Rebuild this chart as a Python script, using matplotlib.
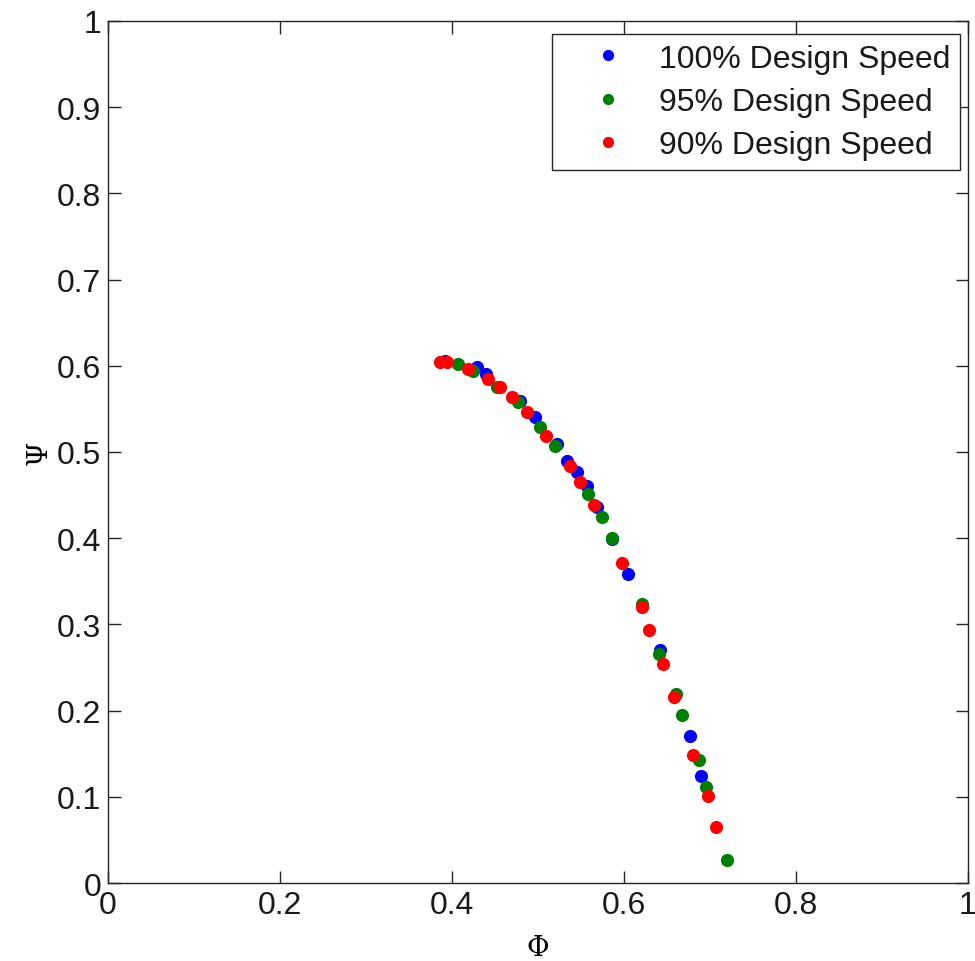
import matplotlib
matplotlib.use("Agg")
import matplotlib.pyplot as plt

phi_100 = [0.392, 0.429, 0.440, 0.479, 0.497, 0.522, 0.534, 0.545, 0.557, 0.569, 0.586, 0.605, 0.642, 0.677, 0.690]
psi_100 = [0.606, 0.599, 0.590, 0.559, 0.541, 0.509, 0.490, 0.477, 0.461, 0.436, 0.399, 0.358, 0.270, 0.170, 0.124]

phi_95 = [0.407, 0.424, 0.452, 0.477, 0.502, 0.520, 0.558, 0.574, 0.586, 0.621, 0.641, 0.660, 0.667, 0.687, 0.695, 0.720]
psi_95 = [0.602, 0.594, 0.575, 0.558, 0.529, 0.507, 0.451, 0.425, 0.400, 0.324, 0.266, 0.219, 0.195, 0.143, 0.111, 0.027]

phi_90 = [0.386, 0.394, 0.419, 0.442, 0.456, 0.470, 0.487, 0.509, 0.537, 0.549, 0.565, 0.598, 0.621, 0.629, 0.645, 0.658, 0.680, 0.698, 0.707]
psi_90 = [0.604, 0.604, 0.596, 0.585, 0.575, 0.564, 0.546, 0.519, 0.484, 0.465, 0.439, 0.371, 0.320, 0.294, 0.254, 0.216, 0.148, 0.101, 0.065]

labels = ["100% Design Speed", "95% Design Speed", "90% Design Speed"]
colors = ["#0000ff", "#008000", "#ff0000"]
xticks = [0, 0.2, 0.4, 0.6, 0.8, 1]
yticks = [0, 0.1, 0.2, 0.3, 0.4, 0.5, 0.6, 0.7, 0.8, 0.9, 1]

plt.rcParams['font.family'] = ['Liberation Sans', 'DejaVu Sans']
FS = 23

fig = plt.figure(figsize=(9.75, 9.62), dpi=100)
ax = fig.add_axes([108/975, 1-884/962, 860/975, 862/962])

for xs, ys, c, lab in zip([phi_100, phi_95, phi_90], [psi_100, psi_95, psi_90], colors, labels):
    ax.plot(xs, ys, linestyle='none', marker='o', markersize=9.5, color=c,
            markeredgewidth=0, label=lab)

ax.set_xlim(0, 1)
ax.set_ylim(0, 1)
ax.set_xticks(xticks)
ax.set_yticks(yticks)
ax.set_xticklabels([("%g" % v) for v in xticks])
ax.set_yticklabels([("%g" % v) for v in yticks])
ax.tick_params(direction='in', length=9, width=1, top=True, right=True,
               labelsize=FS, colors='#262626', labelcolor='#1a1a1a', pad=5)
for s in ax.spines.values():
    s.set_linewidth(1.0)
    s.set_color('#262626')

ax.set_xlabel('Φ', fontsize=20, family=['DejaVu Serif'], labelpad=10)
ax.set_ylabel('Ψ', fontsize=20, family=['DejaVu Serif'], labelpad=3)

leg = ax.legend(loc='upper right', bbox_to_anchor=(960/975, 1-35/962),
                bbox_transform=fig.transFigure, fontsize=FS, frameon=True,
                fancybox=False, edgecolor='#262626', borderaxespad=0,
                handletextpad=0.15, handlelength=2.9, labelspacing=0.42,
                borderpad=0.3, markerscale=0.85, framealpha=1)
leg.get_frame().set_linewidth(1.0)
for t in leg.get_texts():
    t.set_color('#1a1a1a')

fig.savefig('out.png', dpi=100)
